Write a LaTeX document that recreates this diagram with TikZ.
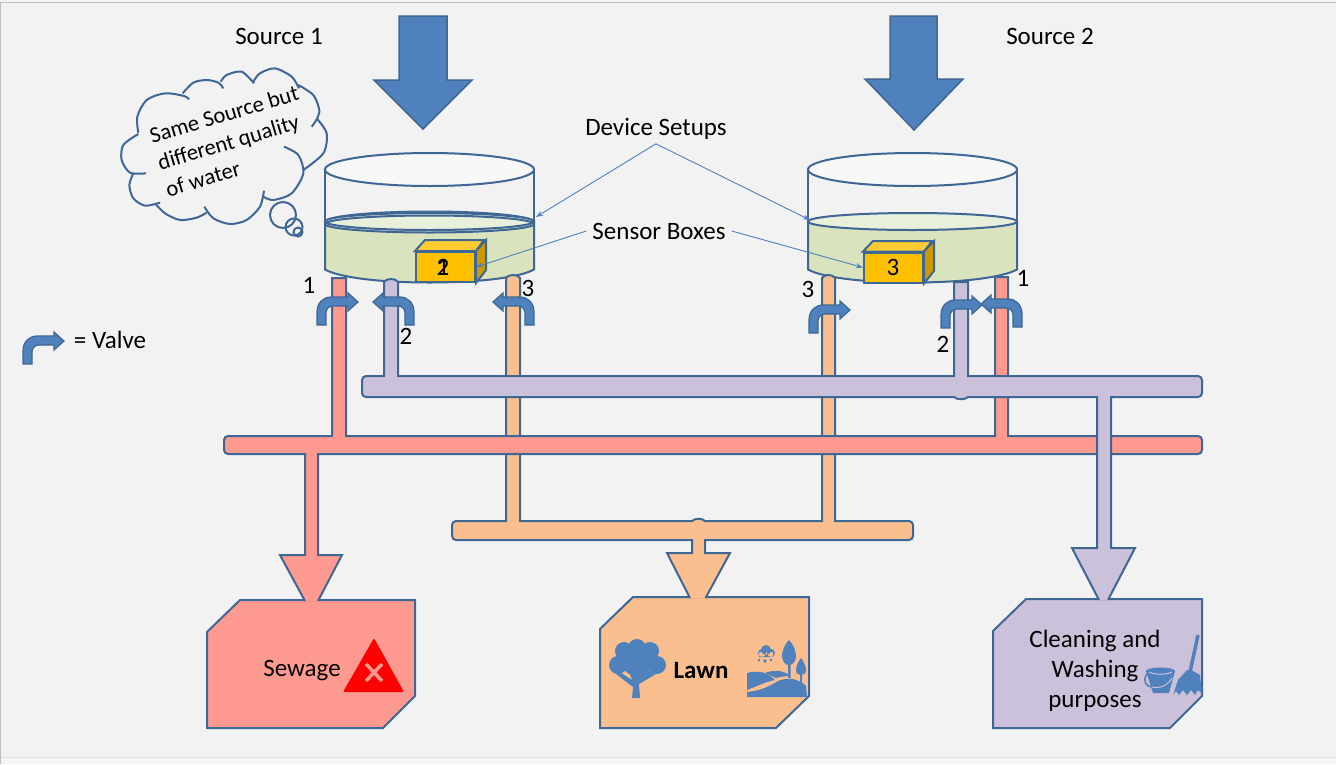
\documentclass[tikz,border=0pt]{standalone}
\usepackage{fontspec}
\setmainfont{Carlito}
\usetikzlibrary{arrows.meta}
\definecolor{edgeblue}{HTML}{3E6795}
\definecolor{fillblue}{HTML}{4F81BD}
\definecolor{pipered}{HTML}{FF9A90}
\definecolor{pipeviolet}{HTML}{CCC1DA}
\definecolor{pipeorange}{HTML}{FBBF8F}
\definecolor{waterside}{HTML}{D9E4BF}
\definecolor{watertop}{HTML}{E8EFDA}
\definecolor{sensorfront}{HTML}{FFC000}
\definecolor{sensortop}{HTML}{FFCD33}
\definecolor{sensorside}{HTML}{CC9A00}
\tikzset{
  valve/.pic={
    \path[draw=edgeblue, fill=fillblue, line width=1.2pt] (0,0) -- (0,-13)
      .. controls (0,-22) and (6,-28) .. (14,-28) -- (31,-28) -- (31,-32) -- (41,-23)
      -- (31,-14) -- (31,-19) -- (16,-19) .. controls (12,-19) and (9,-16) .. (9,-12)
      -- (9,0) -- cycle;
  },
  tank/.pic={
    \draw[tankline, fill=waterside] (-104.5,52) -- (-104.5,100)
      .. controls (-90,108) and (-50,113) .. (0,113)
      .. controls (50,113) and (90,108) .. (104.5,100) -- (104.5,52) -- cycle;
    \draw[tankline, fill=watertop] (0,52) ellipse [x radius=104.5, y radius=8.5];
    \draw[tankline] (-104.5,0) -- (-104.5,52);
    \draw[tankline] (104.5,0) -- (104.5,52);
    \draw[tankline, fill=white!30!black!4] (0,0) ellipse [x radius=104.5, y radius=16.5];
  }
}
\tikzstyle{tankline} = [draw=edgeblue, line width=2pt]
\tikzstyle{pipeline} = [draw=edgeblue, line width=2pt, line join=miter]
\tikzstyle{sink} = [draw=edgeblue, line width=2pt]
\tikzstyle{bigarrow} = [draw=edgeblue, fill=fillblue, line width=1.5pt]
\tikzstyle{tag} = [font=\fontsize{25}{30}\selectfont, inner sep=0pt]
\tikzstyle{leader} = [draw=fillblue, line width=0.9pt, -{Stealth[length=7pt, width=5pt]}]
\tikzstyle{sensor} = [draw=edgeblue, line width=2pt, fill=sensorfront, inner sep=0pt,
    minimum width=59pt, minimum height=30pt]
\tikzstyle{icon} = [fill=fillblue, draw=none]

\begin{document}
\begin{tikzpicture}[x=1pt, y=-1pt]
    \useasboundingbox (0,0) rectangle (1336,764);
    \fill[white!96!black] (0,0) rectangle (1336,764);
    \fill[white!95!black] (1,2) rectangle (1336,757);
    \draw[black!25, line width=1pt] (0.5,764) -- (0.5,2) -- (1336,2);
    \draw[black!12, line width=1pt] (0.5,757.5) -- (1336,757.5);

    \draw[bigarrow] (399,16) -- (447,16) -- (447,80) -- (472,80) -- (423,129) -- (374,80) -- (399,80) -- cycle;
    \draw[bigarrow] (890,16) -- (937,16) -- (937,79) -- (963,79) -- (914,130) -- (865,79) -- (890,79) -- cycle;

    \draw[sink, fill=pipered] (207,632) -- (240,600) -- (415,600) -- (415,696) -- (383,728) -- (207,728) -- cycle;
    \draw[sink, fill=pipeorange] (600,629) -- (633,597) -- (809,597) -- (809,696) -- (776,728) -- (600,728) -- cycle;
    \draw[sink, fill=pipeviolet] (993,631) -- (1026,599) -- (1202,599) -- (1202,696) -- (1170,728) -- (993,728) -- cycle;

    \draw[tankline] (429.5,222) ellipse [x radius=104.5, y radius=10.5];
    \pic at (429.5,169.5) {tank};
    \pic at (912.5,169.5) {tank};
    \draw[tankline] (429.5,224) ellipse [x radius=104.5, y radius=8.5];

    \draw[pipeline, fill=pipeorange] (690,598) -- (667,553) -- (692,553) -- (692,540)
      [rounded corners=4pt] -- (452,540) -- (452,521) [sharp corners] -- (506,521) -- (506,278)
      .. controls (508,274) and (518,274) .. (520,278) -- (520,521) -- (692,521)
      .. controls (695,518) and (702,518) .. (705,521) -- (822,521) -- (822,278)
      .. controls (824,274) and (833,274) .. (835,278) -- (835,521)
      [rounded corners=4pt] -- (913,521) -- (913,540) [sharp corners] -- (705,540) -- (705,553)
      -- (730,553) -- (705.5,598);
    \draw[pipeline, fill=pipered] (305,601) -- (280,555) -- (305,555) -- (305,454)
      [rounded corners=4pt] -- (224,454) -- (224,436) [sharp corners] -- (332,436) -- (332,278)
      -- (346,278) -- (346,436) -- (995,436) -- (995,277) -- (1008,277) -- (1008,436)
      [rounded corners=4pt] -- (1202,436) -- (1202,454) [sharp corners] -- (318,454) -- (318,555)
      -- (342,555) -- (318,601);
    \draw[pipeline, fill=pipeviolet] (1099,600) -- (1072,548) -- (1097,548) -- (1097,397) -- (968,397)
      .. controls (965,400) and (957,400) .. (954,397)
      [rounded corners=4pt] -- (362,397) -- (362,376) [sharp corners] -- (384,376) -- (384,282)
      .. controls (386,278) and (396,278) .. (398,282) -- (398,376) -- (954,376) -- (954,282)
      -- (968,282) -- (968,376)
      [rounded corners=4pt] -- (1202,376) -- (1202,397) [sharp corners] -- (1111,397) -- (1111,548)
      -- (1135,548) -- (1108,600);

    \node[sensor] (boxa) at (445.5,267) {};
    \draw[sensor, fill=sensortop] (boxa.north west) -- ++(10,-11) -- ++(59,0) -- (boxa.north east) -- cycle;
    \draw[sensor, fill=sensorside] (boxa.north east) -- ++(10,-11) -- ++(0,30) -- (boxa.south east) -- cycle;
    \node[sensor] (boxb) at (893.5,267.5) {};
    \draw[sensor, fill=sensortop] (boxb.north west) -- ++(10,-10.5) -- ++(59,0) -- (boxb.north east) -- cycle;
    \draw[sensor, fill=sensorside] (boxb.north east) -- ++(10,-10.5) -- ++(0,30) -- (boxb.south east) -- cycle;
    \node[tag] (numa) at (443,267) {2};
    \node[tag] (numb) at (443,267) {1};
    \node[tag] (numc) at (893,267) {3};

    \pic at (317,325) {valve};
    \pic[xscale=-1] at (414,325) {valve};
    \pic[xscale=-1] at (534,325) {valve};
    \pic at (809,333) {valve};
    \pic at (941,328) {valve};
    \pic[xscale=-1] at (1022,327) {valve};
    \pic at (23,364) {valve};

    \node[tag] (src1) at (279,36) {Source 1};
    \node[tag] (src2) at (1050,36) {Source 2};
    \node[tag, inner ysep=4pt] (devices) at (656,129) {Device Setups};
    \node[tag, inner xsep=6pt] (sensors) at (659,231) {Sensor Boxes};
    \node[tag] (legend) at (110,340) {= Valve};
    \node[tag] (lab1a) at (309,285) {1};
    \node[tag] (lab2a) at (406,336) {2};
    \node[tag] (lab3a) at (528,288) {3};
    \node[tag] (lab3b) at (808,289) {3};
    \node[tag] (lab2b) at (943,344) {2};
    \node[tag] (lab1b) at (1023,278) {1};
    \node[tag] (sewage) at (302,671) {Sewage};
    \node[tag, font=\fontsize{25}{30}\selectfont\bfseries] (lawn) at (701,670) {Lawn};
    \node[tag, align=center] (cleaning) at (1095,671) {Cleaning and\\Washing\\purposes};

    \coordinate (tanka) at (536,217);
    \coordinate (tankb) at (810,220);
    \path[leader] (devices.south) -- (tanka);
    \path[leader] (devices.south) -- (tankb);
    \path[leader] (sensors.west) -- (boxa.east);
    \path[leader] (sensors.east) -- (boxb.west);

    \begin{scope}[shift={(110pt,-60pt)}, x=0.3333pt, y=-0.3333pt]
      \draw[tankline] plot[smooth] coordinates {(85,218) (82,170) (110,120) (165,100) (222,108) (237,118)};
      \draw[tankline] plot[smooth] coordinates {(218,100) (250,68) (290,60) (325,68) (340,85)};
      \draw[tankline] plot[smooth] coordinates {(332,65) (350,45) (395,35) (432,70)};
      \draw[tankline] plot[smooth] coordinates {(430,65) (450,40) (495,25) (545,50) (567,85)};
      \draw[tankline] plot[smooth] coordinates {(565,75) (610,105) (628,150) (620,178) (605,200)};
      \draw[tankline] plot[smooth] coordinates {(620,175) (650,220) (640,280) (580,330)};
      \draw[tankline] plot[smooth] coordinates {(522,260) (565,285) (580,340) (545,400) (490,420) (460,410)};
      \draw[tankline] plot[smooth] coordinates {(462,392) (450,440) (410,480) (360,492) (310,475) (283,440)};
      \draw[tankline] plot[smooth] coordinates {(290,458) (260,473) (210,480) (165,460) (135,430)};
      \draw[tankline] plot[smooth] coordinates {(150,428) (105,437) (70,415) (58,375) (70,340)};
      \draw[tankline] plot[smooth] coordinates {(108,340) (60,338) (35,300) (40,255) (85,222)};
    \end{scope}
    \draw[tankline] (283,215) circle [radius=13];
    \draw[tankline] (294,227) circle [radius=8.5];
    \draw[tankline] (298,232) circle [radius=4.5];
    \node[tag, font=\fontsize{22.5}{28}\selectfont, rotate=16.5, align=left] (thought) at (232,141) {Same Source but\\different quality\\of water};

    \fill[red, rounded corners=2pt] (374,638) -- (404,692) -- (343,692) -- cycle;
    \draw[pipered, line width=3.5pt] (366,664) -- (382,681) (382,664) -- (366,681);

    \fill[icon] (618,665) circle [radius=9] (624,651) circle [radius=9] (637,648) circle [radius=9]
      (650,651) circle [radius=9] (657,665) circle [radius=9] (637,660) circle [radius=16];
    \fill[icon] (632,698) -- (640,698) -- (639,684) -- (656,674) -- (648,670) -- (640,676) -- (641,666)
      -- (637,666) -- (636,677) -- (631,668) -- (628,668) -- (632,680) -- (620,672) -- (616,674) -- (633,687) -- cycle;

    \fill[icon] (762,653) circle [radius=4] (766,650) circle [radius=5] (771,653) circle [radius=4]
      (759,652) rectangle (773,657);
    \fill[icon] (759,660) circle [radius=1.4] (765,661) circle [radius=1.8] (771,660) circle [radius=1.4];
    \fill[icon] (789,640) .. controls (794,645) and (796,652) .. (796,656) .. controls (796,662) and (792,665) .. (789,665)
      .. controls (786,665) and (782,662) .. (782,656) .. controls (782,652) and (784,645) .. (789,640) -- cycle;
    \fill[icon] (801,658) .. controls (804,662) and (806,666) .. (806,670) .. controls (806,674) and (803,675) .. (801,675)
      .. controls (799,675) and (796,674) .. (796,670) .. controls (796,666) and (798,662) .. (801,658) -- cycle;
    \fill[icon] (788,660) rectangle (790.5,678) (800,670) rectangle (802,685);
    \fill[icon] (747,673) .. controls (757,670) and (768,672) .. (775,680)
      .. controls (765,682) and (755,687) .. (747,690) -- cycle;
    \fill[icon] (765,673) .. controls (775,669) and (785,671) .. (790,676)
      .. controls (785,676) and (779,677) .. (776,678) .. controls (772,676) and (768,674) .. (765,673) -- cycle;
    \fill[icon] (747,692) .. controls (760,691) and (770,686) .. (778,681)
      .. controls (790,676) and (800,680) .. (806,686) -- (807,697) -- (747,697) -- cycle;

    \fill[icon] (1146,671) -- (1175,671) -- (1169,693) -- (1153,693) -- cycle;
    \fill[icon] (1160.5,671) ellipse [x radius=14.5, y radius=3.5];
    \draw[pipeviolet, line width=1pt] (1149,672) .. controls (1155,675) and (1166,675) .. (1172,672);
    \draw[pipeviolet, line width=1pt] (1152,687) .. controls (1160,689) and (1168,685) .. (1172,678);
    \draw[fillblue, line width=1.5pt] (1147,674) .. controls (1142,680) and (1146,687) .. (1152,687);
    \draw[fillblue, line width=3.5pt] (1198,635) -- (1190,672);
    \fill[icon] (1187,670) -- (1193,671) -- (1200,675) -- (1202,694) -- (1198,690) -- (1195,695) -- (1191,690) -- (1187,695)
      -- (1183,690) -- (1179,695) -- (1176,691) -- (1173,695) -- (1178,680) -- cycle;
\end{tikzpicture}
\end{document}
